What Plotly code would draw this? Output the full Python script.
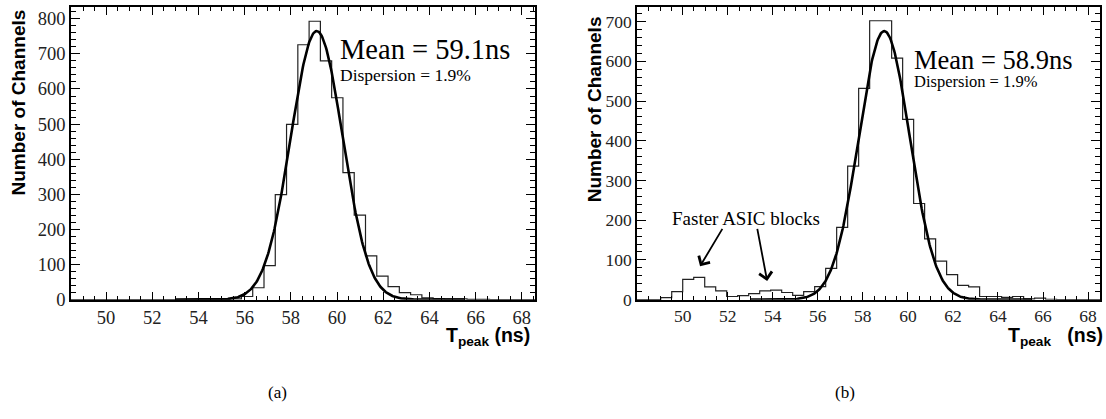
import numpy as np
import plotly.graph_objects as go

# ---------------- data ----------------
# common binning (bin index k -> edge 50.0 + k*BIN_W)
BIN_W = 0.4883
BIN_ORIGIN = 50.0
K_FIRST = -6          # first bin index listed below
# (a) counts per bin, starting at bin K_FIRST
counts_a = [0, 0, 0, 0, 0, 0,            # k=-6..-1
            0, 0, 0, 0, 0, 0, 0, 0, 0, 0, # k=0..9
            1, 2, 9, 34, 97, 299, 499, 726, 793, 680,   # k=10..19
            575, 362, 241, 125, 67, 37, 20, 14, 5, 3,   # k=20..29
            2, 2, 1, 1, 0, 0, 0, 0, 0, 0,               # k=30..39
            0]
# (b) counts per bin
counts_b = [0, 0, 0, 0, 5, 20,           # k=-6..-1
            51, 56, 32, 22, 8, 10, 15, 22, 24, 18,     # k=0..9
            11, 20, 33, 79, 182, 336, 532, 702, 702, 608,  # k=10..19
            454, 242, 153, 97, 63, 36, 32, 8, 8, 6,    # k=20..29
            8, 2, 4, 1, 0, 0, 0, 0, 0, 0,              # k=30..39
            0]
# Gaussian fit parameters (amplitude, mean, sigma)
fit_a = dict(amp=765, mean=59.12, sigma=1.12)
fit_b = dict(amp=676, mean=58.95, sigma=1.13)
fit_range = (53.0, 65.5)

x_ticks = [50, 52, 54, 56, 58, 60, 62, 64, 66, 68]
y_ticks_a = [0, 100, 200, 300, 400, 500, 600, 700, 800]
y_ticks_b = [0, 100, 200, 300, 400, 500, 600, 700]

mean_text_a = "Mean = 59.1ns"
mean_text_b = "Mean = 58.9ns"
disp_text = "Dispersion = 1.9%"
y_title = "Number of Channels"
faster_text = "Faster ASIC blocks"

# ---------------- helpers ----------------
W, H = 1106, 419
def px(x): return x / W
def py(y): return 1 - y / H

def step_xy(counts):
    edges = [BIN_ORIGIN + (K_FIRST + i) * BIN_W for i in range(len(counts) + 1)]
    xs = [edges[0]] + edges
    ys = [0] + list(counts) + [0]
    return xs, ys

def gauss(p):
    xx = np.linspace(fit_range[0], fit_range[1], 400)
    return xx, p["amp"] * np.exp(-0.5 * ((xx - p["mean"]) / p["sigma"]) ** 2)

serif = "Liberation Serif, Times New Roman, Times, serif"
sans = "Liberation Sans, Arial, sans-serif"

fig = go.Figure()
for counts, fit, xa, ya in [(counts_a, fit_a, "x", "y"), (counts_b, fit_b, "x2", "y2")]:
    sx, sy = step_xy(counts)
    fig.add_trace(go.Scatter(x=sx, y=sy, mode="lines", line=dict(color="#222", width=1.2, shape="hv"),
                             xaxis=xa, yaxis=ya, showlegend=False, hoverinfo="skip"))
    gx, gy = gauss(fit)
    fig.add_trace(go.Scatter(x=gx, y=gy, mode="lines", line=dict(color="black", width=2.6),
                             xaxis=xa, yaxis=ya, showlegend=False, hoverinfo="skip"))

ydom = [py(307), py(7)]
tf_a = dict(family=serif, size=18.5, color="#222")
tf_b = dict(family=serif, size=17.5, color="#222")
common = dict(ticks="inside", tickwidth=1, tickcolor="black", mirror="allticks", showline=True,
              linecolor="black", linewidth=1.5, showgrid=False, zeroline=False)
xminor = dict(ticks="inside", dtick=0.5, ticklen=4, tickcolor="black", tickwidth=1)
yminor = dict(ticks="inside", dtick=20, ticklen=5, tickcolor="black", tickwidth=1)
fig.update_layout(
    width=W, height=H, margin=dict(l=0, r=0, t=0, b=0),
    paper_bgcolor="white", plot_bgcolor="white",
    font=dict(family=serif, size=18, color="#222"),
    xaxis=dict(domain=[px(71), px(535)], range=[48.48, 68.57], anchor="y", tickvals=x_ticks,
               ticklen=8, minor=xminor, tickfont=tf_a, **common),
    yaxis=dict(domain=ydom, range=[0, 834], tickvals=y_ticks_a, anchor="x",
               ticklen=9, minor=yminor, tickfont=tf_a, **common),
    xaxis2=dict(domain=[px(637), px(1100)], range=[47.97, 68.53], anchor="y2", tickvals=x_ticks,
                ticklen=8, minor=xminor, tickfont=tf_b, **common),
    yaxis2=dict(domain=ydom, range=[0, 737], tickvals=y_ticks_b, anchor="x2",
                ticklen=9, minor=yminor, tickfont=tf_b, **common),
)

anns = []
def txt(text, x, y, size, family=serif, xanchor="left", angle=0, yanchor="middle"):
    anns.append(dict(text=text, x=px(x), y=py(y), xref="paper", yref="paper", showarrow=False,
                     xanchor=xanchor, yanchor=yanchor, textangle=angle,
                     font=dict(family=family, size=size, color="black")))

txt(mean_text_a, 338, 51, 28.5)
txt(disp_text, 338, 77, 17.5)
txt(mean_text_b, 912, 61, 26.5)
txt(disp_text, 912, 83, 16.5)
txt("<b>" + y_title + "</b>", 18, 105, 19, family=sans, xanchor="center", angle=-90)
txt("<b>" + y_title + "</b>", 594, 112, 19, family=sans, xanchor="center", angle=-90)
txt("<b>T<sub>peak</sub> (ns)</b>", 444, 345, 19.5, family=sans, xanchor="left")
txt("<b>T<sub>peak</sub>&nbsp;&nbsp; (ns)</b>", 1006, 345, 19.5, family=sans, xanchor="left")
txt("(a)", 277, 402, 17, xanchor="center")
txt("(b)", 845, 402, 17, xanchor="center")
txt(faster_text, 746, 224, 19, xanchor="center")

for head, tail in [((50.77, 84), (51.8, 182)), ((53.75, 47), (53.3, 182))]:
    anns.append(dict(x=head[0], y=head[1], xref="x2", yref="y2", ax=tail[0], ay=tail[1],
                     axref="x2", ayref="y2", showarrow=True, arrowhead=4, arrowsize=1.4,
                     arrowwidth=1.8, arrowcolor="black", text=""))
fig.update_layout(annotations=anns)

fig.write_html("out.html", config={"displayModeBar": False},
               post_script="document.body.style.margin='0px';")
